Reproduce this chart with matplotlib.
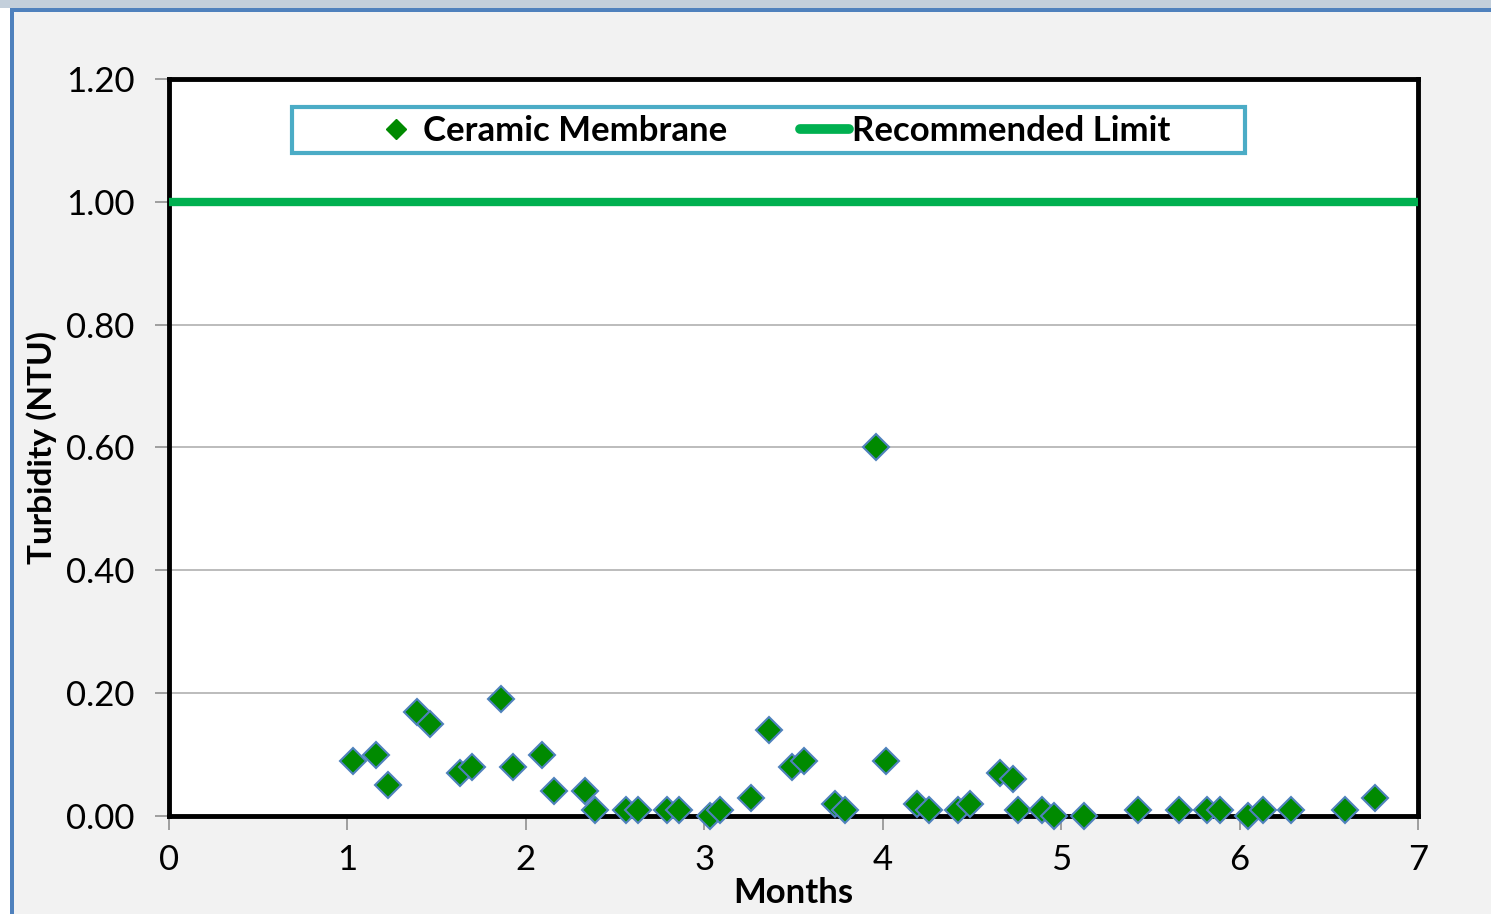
import matplotlib
matplotlib.use("Agg")
import matplotlib.pyplot as plt
from matplotlib.patches import Rectangle
from matplotlib.lines import Line2D

plt.rcParams['font.family'] = ['Lato', 'DejaVu Sans']

months = [1.03, 1.16, 1.23, 1.39, 1.46, 1.63, 1.70, 1.86, 1.93, 2.09, 2.16, 2.33,
          2.39, 2.56, 2.63, 2.79, 2.86, 3.03, 3.09, 3.26, 3.36, 3.49, 3.56, 3.73,
          3.79, 3.96, 4.02, 4.19, 4.26, 4.42, 4.49, 4.66, 4.73, 4.76, 4.89, 4.96,
          5.13, 5.43, 5.66, 5.82, 5.89, 6.05, 6.13, 6.29, 6.59, 6.76]
turbidity = [0.09, 0.10, 0.05, 0.17, 0.15, 0.07, 0.08, 0.19, 0.08, 0.10, 0.04, 0.04,
             0.01, 0.01, 0.01, 0.01, 0.01, 0.00, 0.01, 0.03, 0.14, 0.08, 0.09, 0.02,
             0.01, 0.60, 0.09, 0.02, 0.01, 0.01, 0.02, 0.07, 0.06, 0.01, 0.01, 0.00,
             0.00, 0.01, 0.01, 0.01, 0.01, 0.00, 0.01, 0.01, 0.01, 0.03]
limit_x = [0, 7]
limit_y = [1.0, 1.0]
yticks = [0.0, 0.2, 0.4, 0.6, 0.8, 1.0, 1.2]
xticks = [0, 1, 2, 3, 4, 5, 6, 7]

fig = plt.figure(figsize=(14.91, 9.14), dpi=100)
fig.patch.set_facecolor('#f2f2f2')
W, H = 1491, 914
# window decorations
fig.patches.append(Rectangle((0, 1 - 8 / H), 1, 8 / H, transform=fig.transFigure,
                             facecolor='#c3cfdb', edgecolor='none', zorder=0))
fig.patches.append(Rectangle((0, 0), 10 / W, 1 - 8 / H, transform=fig.transFigure,
                             facecolor='white', edgecolor='none', zorder=0))
fig.patches.append(Rectangle((10 / W, 1 - 12 / H), 1 - 10 / W, 4 / H, transform=fig.transFigure,
                             facecolor='#4f81bd', edgecolor='none', zorder=1))
fig.patches.append(Rectangle((10 / W, 0), 4 / W, 1 - 8 / H, transform=fig.transFigure,
                             facecolor='#4f81bd', edgecolor='none', zorder=1))

AX_L, AX_R, AX_T, AX_B = 169, 1418, 79, 816
ax = fig.add_axes([AX_L / W, 1 - AX_B / H, (AX_R - AX_L) / W, (AX_B - AX_T) / H])
ax.set_facecolor('white')
ax.set_xlim(0, 7)
ax.set_ylim(0, 1.2)
ax.set_yticks(yticks)
ax.set_yticklabels([f"{v:.2f}" for v in yticks])
ax.set_xticks(xticks)
ax.grid(axis='y', color='#b0b0b0', linewidth=1.2, zorder=0)
for s in ax.spines.values():
    s.set_linewidth(3.5)
    s.set_color('black')
ax.tick_params(axis='both', which='major', labelsize=25, color='#909090', length=10,
               width=1.2, direction='out')
ax.tick_params(axis='y', pad=15)
ax.tick_params(axis='x', pad=10)

ax.plot(limit_x, limit_y, color='#00b050', linewidth=6, solid_capstyle='butt',
        zorder=3, clip_on=False)
ax.plot(months, turbidity, linestyle='none', marker='D', markersize=13,
        markerfacecolor='#008a00', markeredgecolor='#4f81bd', markeredgewidth=1.5,
        zorder=4, clip_on=False)

ax.set_ylabel('Turbidity (NTU)', fontsize=24, fontweight='bold')
ax.yaxis.set_label_coords(-(AX_L - 42) / (AX_R - AX_L), 0.5)
ax.set_xlabel('Months', fontsize=25, fontweight='bold')
ax.xaxis.set_label_coords(0.5, -(893 - AX_B) / (AX_B - AX_T))
ax.xaxis.label.set_va('center')
ax.yaxis.label.set_va('center')

def ax_x(px):
    return (px - AX_L) / (AX_R - AX_L)

def ax_y(py):
    return (AX_B - py) / (AX_B - AX_T)

# legend frame
frame = Rectangle((ax_x(292), ax_y(153)), ax_x(1245) - ax_x(292), ax_y(107) - ax_y(153),
                  transform=ax.transAxes, facecolor='white', edgecolor='#4bacc6',
                  linewidth=3, zorder=5, clip_on=False)
ax.add_patch(frame)

handles = [Line2D([], [], linestyle='none', marker='D', markersize=10,
                  markerfacecolor='#008a00', markeredgecolor='#008a00'),
           Line2D([], [], color='#00b050', linewidth=7, solid_capstyle='round')]
leg = ax.legend(handles, ['Ceramic Membrane', 'Recommended Limit'], ncol=2,
                loc='center', bbox_to_anchor=(ax_x(771), ax_y(131)),
                prop={'size': 25, 'weight': 'bold'}, frameon=False,
                handlelength=1.4, handletextpad=0.08, columnspacing=2.1,
                borderpad=0, borderaxespad=0)
leg.set_zorder(6)

fig.savefig('out.png', dpi=100, facecolor=fig.get_facecolor())
